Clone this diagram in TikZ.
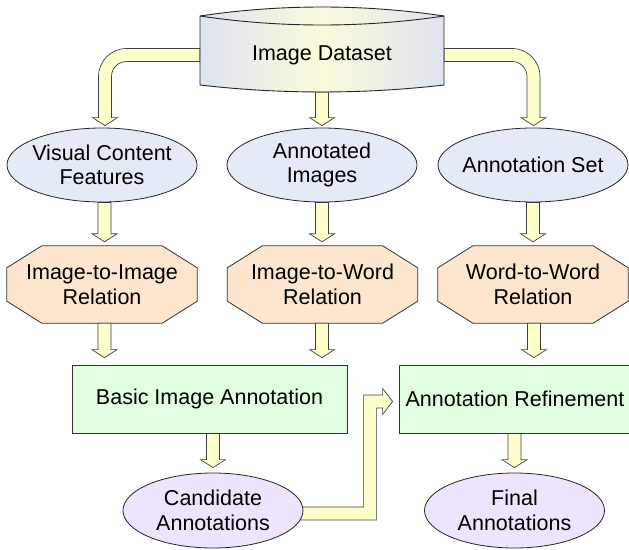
\documentclass[tikz,border=0pt]{standalone}
\usepackage{fontspec}
\setmainfont{Liberation Sans}
\usetikzlibrary{backgrounds,calc,shapes.geometric}
\definecolor{cylblue}{RGB}{222,228,240}
\definecolor{cylyel}{RGB}{250,250,218}
\definecolor{ellblue}{RGB}{228,234,246}
\definecolor{octpeach}{RGB}{253,229,206}
\definecolor{rectgreen}{RGB}{224,255,224}
\definecolor{ellpurple}{RGB}{238,228,255}
\definecolor{arrowyel}{RGB}{255,255,204}

% vertical block arrow: x taken from source, tip = target y + gap
\newcommand\varrow[3]{%
 \path[barrow] let \p1=(#1), \p2=(#2) in
 (\x1-6.5pt,\y1) -- (\x1-6.5pt,\y2+#3pt+8pt) -- (\x1-12.5pt,\y2+#3pt+8pt)
 -- (\x1,\y2+#3pt) -- (\x1+12.5pt,\y2+#3pt+8pt) -- (\x1+6.5pt,\y2+#3pt+8pt)
 -- (\x1+6.5pt,\y1) -- cycle;}
% octagon around a text node
\newcommand\octof[1]{%
 \path[octshape] ([xshift=35pt]#1.north west) -- ([xshift=-35pt]#1.north east)
 -- ([yshift=-22pt]#1.north east) -- ([yshift=22pt]#1.south east)
 -- ([xshift=-35pt]#1.south east) -- ([xshift=35pt]#1.south west)
 -- ([yshift=22pt]#1.south west) -- ([yshift=-22pt]#1.north west) -- cycle;}

\tikzset{
 lbl/.style={font=\fontsize{21.5pt}{24.5pt}\selectfont, align=center, inner sep=0pt},
 ellrow/.style={lbl, ellipse, draw=black!85, line width=0.8pt, fill=ellblue,
   minimum width=190pt, minimum height=74pt, inner xsep=-8pt},
 ellbot/.style={lbl, ellipse, draw=black!85, line width=0.8pt, fill=ellpurple,
   minimum width=180pt, minimum height=75pt, inner xsep=-8pt},
 octlbl/.style={lbl, minimum width=190pt, minimum height=77pt},
 octshape/.style={fill=octpeach, draw=black!80, line width=0.8pt},
 rectbox/.style={lbl, rectangle, draw=black!80, line width=0.8pt, fill=rectgreen,
   minimum height=68pt},
 barrow/.style={fill=arrowyel, draw=black!75, line width=0.7pt, line join=miter},
 cylshape/.style={left color=cylblue, right color=cylblue, middle color=cylyel,
   draw=black!85, line width=0.9pt},
}

\begin{document}
\begin{tikzpicture}[x=1pt,y=-1pt]
\useasboundingbox (0,0) rectangle (629,549);

% nodes
\node[lbl, minimum width=244pt, minimum height=74pt] (ds) at (322,55) {Image Dataset};

\node[ellrow] (e1) at (102,165) {Visual Content\\Features};
\node[ellrow] (e2) at (322,165) {Annotated\\Images};
\node[ellrow] (e3) at (533,165) {Annotation Set};

\node[octlbl] (o1) at (102,284.5) {Image-to-Image\\Relation};
\node[octlbl] (o2) at (322.5,284.5) {Image-to-Word\\Relation};
\node[octlbl] (o3) at (533,284.5) {Word-to-Word\\Relation};

\node[rectbox, minimum width=275pt] (r1) at (209.5,399) {Basic Image Annotation};
\node[rectbox, minimum width=232pt] (r2) at (515,399) {Annotation Refinement};

\node[ellbot] (ca) at (213,510.5) {Candidate\\Annotations};
\node[ellbot] (fa) at (514.5,510.5) {Final\\Annotations};

\begin{scope}[on background layer]
 % cylinder
 \path[cylshape] (200,16) .. controls (280,4) and (364,4) .. (444,16) -- (444,85)
   .. controls (364,94.3) and (280,94.3) .. (200,85) -- cycle;
 \draw[black!85, line width=0.9pt] (200,16) .. controls (280,28) and (364,28) .. (444,16);
 % octagons
 \octof{o1}
 \octof{o2}
 \octof{o3}

 % elbow arrows from the dataset
 \path[barrow] let \p1=(ds.west), \p2=([xshift=3pt,yshift=2pt]e1.north) in
  (\x1,\y1+6.5pt) -- (\x2+21.5pt,\y1+6.5pt)
  .. controls (\x2+6pt,\y1+6.5pt) and (\x2-6.5pt,\y1-6pt) .. (\x2-6.5pt,\y1-21.5pt)
  -- (\x2-6.5pt,\y2+8pt) -- (\x2-12.5pt,\y2+8pt) -- (\x2,\y2)
  -- (\x2+12.5pt,\y2+8pt) -- (\x2+6.5pt,\y2+8pt) -- (\x2+6.5pt,\y1-21.5pt)
  .. controls (\x2+6.5pt,\y1-13.2pt) and (\x2+13.2pt,\y1-6.5pt) .. (\x2+21.5pt,\y1-6.5pt)
  -- (\x1,\y1-6.5pt) -- cycle;
 \path[barrow] let \p1=(ds.east), \p2=([xshift=0.5pt,yshift=2pt]e3.north) in
  (\x1,\y1+6.5pt) -- (\x2-21.5pt,\y1+6.5pt)
  .. controls (\x2-6pt,\y1+6.5pt) and (\x2+6.5pt,\y1-6pt) .. (\x2+6.5pt,\y1-21.5pt)
  -- (\x2+6.5pt,\y2+8pt) -- (\x2+12.5pt,\y2+8pt) -- (\x2,\y2)
  -- (\x2-12.5pt,\y2+8pt) -- (\x2-6.5pt,\y2+8pt) -- (\x2-6.5pt,\y1-21.5pt)
  .. controls (\x2-6.5pt,\y1-13.2pt) and (\x2-13.2pt,\y1-6.5pt) .. (\x2-21.5pt,\y1-6.5pt)
  -- (\x1,\y1-6.5pt) -- cycle;

 % straight arrows
 \varrow{ds.south}{e2.north}{2}
 \varrow{[xshift=2.5pt]e1.south}{o1.north}{4}
 \varrow{e2.south}{o2.north}{4}
 \varrow{e3.south}{o3.north}{4}
 \varrow{[xshift=2.5pt]o1.south}{r1.north}{7}
 \varrow{[xshift=-0.5pt]o2.south}{r1.north}{7}
 \varrow{[xshift=1pt]o3.south}{r2.north}{7}
 \varrow{r1.south -| ca.north}{ca.north}{5}
 \varrow{r2.south -| fa.north}{fa.north}{5}

 % candidate -> refinement
 \path[barrow] let \p1=([xshift=-12pt,yshift=-3pt]ca.east), \p2=([xshift=-6pt,yshift=-2.5pt]r2.west) in
  (\x1,\y1+6.5pt) -- (\x2-29pt,\y1+6.5pt) -- (\x2-29pt,\y2+6.5pt) -- (\x2-10pt,\y2+6.5pt)
  -- (\x2-10pt,\y2+13pt) -- (\x2,\y2) -- (\x2-10pt,\y2-13pt) -- (\x2-10pt,\y2-6.5pt)
  -- (\x2-16pt,\y2-6.5pt) -- (\x2-16pt,\y1-6.5pt) -- (\x1,\y1-6.5pt) -- cycle;
\end{scope}
\end{tikzpicture}
\end{document}
